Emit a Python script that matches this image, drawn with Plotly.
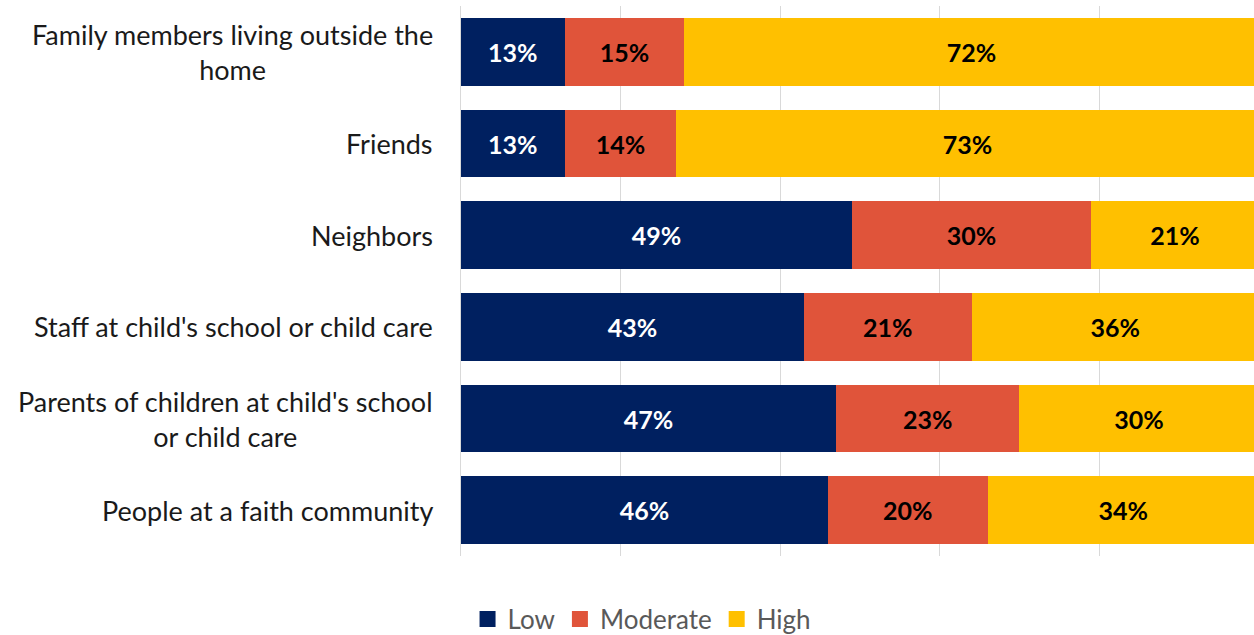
import plotly.graph_objects as go

# Categories, top to bottom
categories = [
    "Family members living outside the<br>home",
    "Friends",
    "Neighbors",
    "Staff at child's school or child care",
    "Parents of children at child's school<br>or child care",
    "People at a faith community",
]
low = [13, 13, 49, 43, 47, 46]
moderate = [15, 14, 30, 21, 23, 20]
high = [72, 73, 21, 36, 30, 34]

series = [
    ("Low", low, "#002060", "white"),
    ("Moderate", moderate, "#E0543A", "black"),
    ("High", high, "#FFC000", "black"),
]

FONT = "Lato"
keys = [str(i) for i in range(len(categories))]

fig = go.Figure()
for name, vals, color, tcolor in series:
    fig.add_trace(go.Bar(
        y=keys, x=vals, name=name, orientation="h", showlegend=False,
        marker=dict(color=color, line=dict(width=0)),
        text=[f"{v}%" for v in vals],
        textposition="inside", insidetextanchor="middle",
        textfont=dict(family=FONT, size=25, color=tcolor, weight="bold"),
        constraintext="none",
    ))

# Legend entries with larger square swatches
for name, _, color, _ in series:
    fig.add_trace(go.Scatter(
        x=[None], y=[None], mode="markers", name=name,
        marker=dict(symbol="square", size=16, color=color),
    ))

# Category labels drawn as centred multi-line annotations to the left of the axis
for k, lab in zip(keys, categories):
    fig.add_annotation(
        x=0, xref="paper", y=k, yref="y", text=lab, showarrow=False,
        xanchor="right", yanchor="middle", align="center", xshift=-26,
        font=dict(family=FONT, size=27, color="#1a1a1a"),
    )

fig.update_layout(
    width=1254, height=635,
    barmode="stack", bargap=0.26,
    margin=dict(l=461, r=0, t=6, b=79, autoexpand=False),
    plot_bgcolor="white", paper_bgcolor="white",
    uniformtext=dict(mode="show", minsize=8),
    legend=dict(
        orientation="h", xref="container", x=0.512, xanchor="center",
        yref="container", y=0.025, yanchor="middle",
        font=dict(family=FONT, size=26, color="#595959"),
        traceorder="normal", itemwidth=30, itemsizing="trace",
    ),
    xaxis=dict(range=[0, 99.4], dtick=20, showgrid=True, gridcolor="#d9d9d9",
               gridwidth=1, showticklabels=False, zeroline=False, fixedrange=True),
    yaxis=dict(autorange="reversed", showticklabels=False, showline=True,
               linecolor="#d9d9d9", linewidth=1, ticks="", fixedrange=True),
)

fig.write_html("out.html")
